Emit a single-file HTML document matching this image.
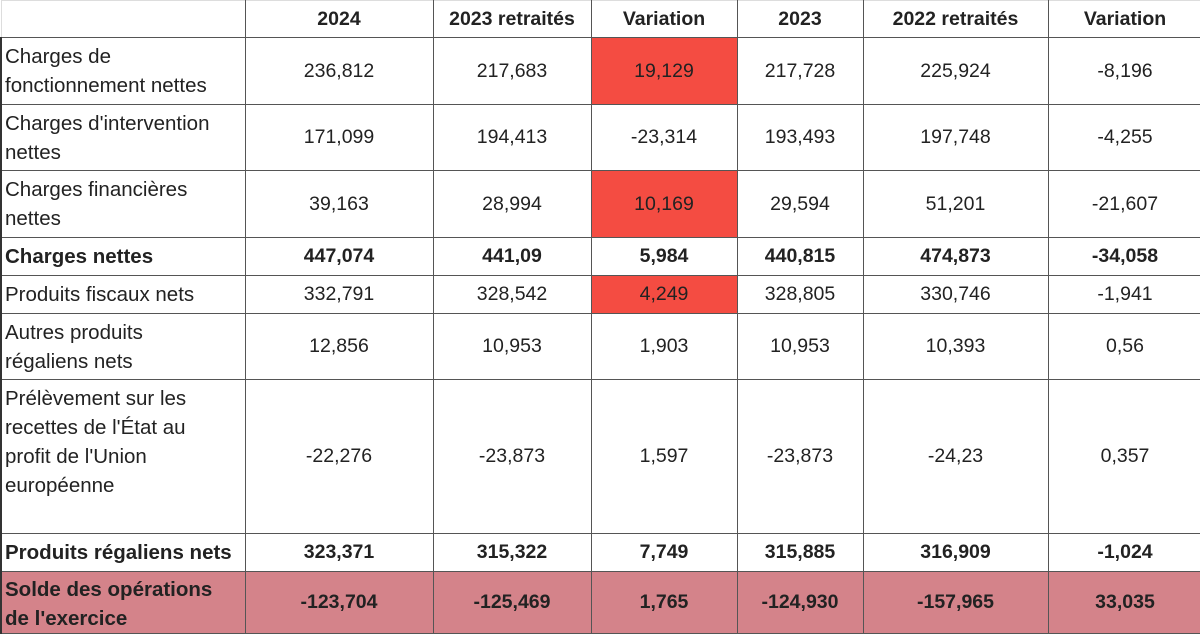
<!DOCTYPE html>
<html><head><meta charset="utf-8"><style>
html,body{margin:0;padding:0;background:#fff;width:1200px;height:628px;overflow:hidden}
table{border-collapse:collapse;table-layout:fixed;position:absolute;left:0;top:0;width:1201px;font-family:"Liberation Sans",sans-serif;font-size:19.5px;color:#222}
td{border:1px solid #555;text-align:center;vertical-align:middle;padding:0;line-height:29px;overflow:hidden;white-space:nowrap}
td.l{text-align:left;padding-left:3px;font-size:20.5px}
tr.h td{font-weight:bold;border-top:1px solid #ddd}
tr.h td:first-child{border-top:1px solid #ddd;border-left:1px solid #ddd}
tr.b td{font-weight:bold}
td.r{background:#f44c42}
tr.p td{background:#d4838a;font-weight:bold}
td:first-child{border-left:2px solid #333}
</style></head><body>
<table>
<colgroup><col style="width:244px"><col style="width:188px"><col style="width:158px"><col style="width:146px"><col style="width:126px"><col style="width:185px"><col style="width:154px"></colgroup>
<tr class="h" style="height:37px"><td></td><td>2024</td><td>2023 retraités</td><td>Variation</td><td>2023</td><td>2022 retraités</td><td>Variation</td></tr>
<tr style="height:67px"><td class="l">Charges de<br>fonctionnement nettes</td><td>236,812</td><td>217,683</td><td class="r">19,129</td><td>217,728</td><td>225,924</td><td>-8,196</td></tr>
<tr style="height:66px"><td class="l">Charges d'intervention<br>nettes</td><td>171,099</td><td>194,413</td><td>-23,314</td><td>193,493</td><td>197,748</td><td>-4,255</td></tr>
<tr style="height:67px"><td class="l">Charges financières<br>nettes</td><td>39,163</td><td>28,994</td><td class="r">10,169</td><td>29,594</td><td>51,201</td><td>-21,607</td></tr>
<tr class="b" style="height:38px"><td class="l">Charges nettes</td><td>447,074</td><td>441,09</td><td>5,984</td><td>440,815</td><td>474,873</td><td>-34,058</td></tr>
<tr style="height:38px"><td class="l">Produits fiscaux nets</td><td>332,791</td><td>328,542</td><td class="r">4,249</td><td>328,805</td><td>330,746</td><td>-1,941</td></tr>
<tr style="height:66px"><td class="l">Autres produits<br>régaliens nets</td><td>12,856</td><td>10,953</td><td>1,903</td><td>10,953</td><td>10,393</td><td>0,56</td></tr>
<tr style="height:154px"><td class="l" style="vertical-align:top;padding-top:4px">Prélèvement sur les<br>recettes de l'État au<br>profit de l'Union<br>européenne</td><td>-22,276</td><td>-23,873</td><td>1,597</td><td>-23,873</td><td>-24,23</td><td>0,357</td></tr>
<tr class="b" style="height:38px"><td class="l">Produits régaliens nets</td><td>323,371</td><td>315,322</td><td>7,749</td><td>315,885</td><td>316,909</td><td>-1,024</td></tr>
<tr class="p" style="height:57px"><td class="l" style="vertical-align:top;padding-top:3px">Solde des opérations<br>de l'exercice</td><td>-123,704</td><td>-125,469</td><td>1,765</td><td>-124,930</td><td>-157,965</td><td>33,035</td></tr>
</table>
</body></html>
